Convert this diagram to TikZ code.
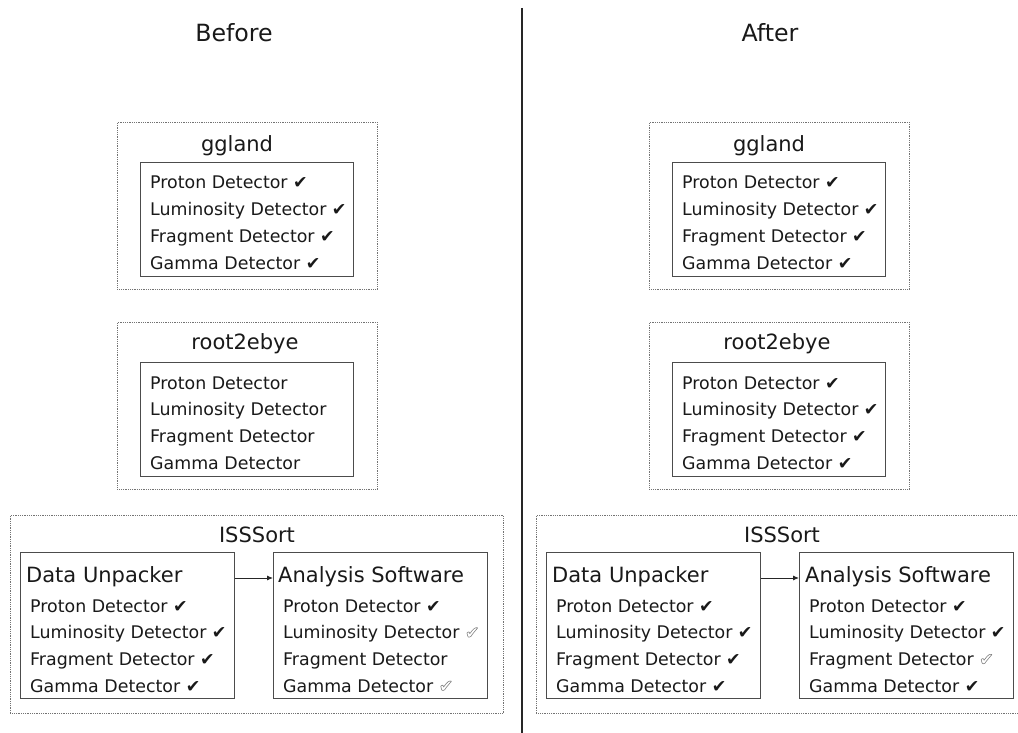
\documentclass[tikz,border=0pt]{standalone}
\usepackage{fontspec}
\setmainfont{DejaVu Sans}
\usetikzlibrary{arrows.meta,calc}
\newcommand{\itemfs}{\fontsize{17.4pt}{20pt}\selectfont}
\newcommand{\ttlfs}{\fontsize{21pt}{24pt}\selectfont}
\newcommand{\headfs}{\fontsize{23.7pt}{27pt}\selectfont}
\newcommand{\ck}{✔}
\newcommand{\ock}{\textcolor{black!50}{\special{pdf:literal direct q 1 Tr 0.6 w}✔\special{pdf:literal direct Q}}}
\begin{document}
\begin{tikzpicture}[x=1pt,y=-1pt,
  outerbox/.style={draw=black!55, densely dotted, line width=0.8pt, inner sep=0pt, anchor=north west},
  innerbox/.style={draw=black!70, line width=0.9pt, inner sep=0pt, anchor=north west},
  itemtxt/.style={anchor=base west, font=\itemfs, inner sep=0pt, text=black!90},
  ttltxt/.style={anchor=base, font=\ttlfs, inner sep=0pt, text=black!90},
  subttl/.style={anchor=base west, font=\ttlfs, inner sep=0pt, text=black!90},
  headtxt/.style={anchor=base, font=\headfs, inner sep=0pt, text=black!90},
  flow/.style={-{Latex[length=6pt,width=5pt]}, line width=0.9pt, black!85}]
\useasboundingbox (0,0) rectangle (1018,733);

% divider
\coordinate (dtop) at (522,8);
\coordinate (dbot) at (522,733);
\draw[line width=2pt, black!85] (dtop) -- (dbot);

% headings
\node[headtxt] (before) at (234,42) {Before};
\node[headtxt] (after) at (770,42) {After};

% ================= BEFORE =================
% ggland
\node[outerbox, minimum width=260pt, minimum height=167pt] (Lgg) at (117,122) {};
\node[innerbox, minimum width=213pt, minimum height=114pt] (Lggi) at (140,162) {};
\node[ttltxt] (Lggt) at (237,152) {ggland};
\node[itemtxt] (Lgg1) at (150,189) {Proton Detector \ck};
\node[itemtxt] (Lgg2) at (150,215.7) {Luminosity Detector \ck};
\node[itemtxt] (Lgg3) at (150,242.3) {Fragment Detector \ck};
\node[itemtxt] (Lgg4) at (150,269) {Gamma Detector \ck};

% root2ebye
\node[outerbox, minimum width=260pt, minimum height=167pt] (Lre) at (117,322) {};
\node[innerbox, minimum width=213pt, minimum height=114pt] (Lrei) at (140,362) {};
\node[ttltxt] (Lret) at (245,349) {root2ebye};
\node[itemtxt] (Lre1) at (150,389) {Proton Detector};
\node[itemtxt] (Lre2) at (150,415.7) {Luminosity Detector};
\node[itemtxt] (Lre3) at (150,442.3) {Fragment Detector};
\node[itemtxt] (Lre4) at (150,469) {Gamma Detector};

% ISSSort
\node[outerbox, minimum width=493pt, minimum height=198pt] (Lis) at (10,515) {};
\node[ttltxt] (List) at (257,542) {ISSSort};
\node[innerbox, minimum width=214pt, minimum height=146pt] (Ldu) at (20,552) {};
\node[subttl] (Ldut) at (26,582) {Data Unpacker};
\node[itemtxt] (Ldu1) at (30,612) {Proton Detector \ck};
\node[itemtxt] (Ldu2) at (30,638.7) {Luminosity Detector \ck};
\node[itemtxt] (Ldu3) at (30,665.3) {Fragment Detector \ck};
\node[itemtxt] (Ldu4) at (30,692) {Gamma Detector \ck};
\node[innerbox, minimum width=214pt, minimum height=146pt] (Las) at (273,552) {};
\node[subttl] (Last) at (278,582) {Analysis Software};
\node[itemtxt] (Las1) at (283,612) {Proton Detector \ck};
\node[itemtxt] (Las2) at (283,638.7) {Luminosity Detector \ock};
\node[itemtxt] (Las3) at (283,665.3) {Fragment Detector};
\node[itemtxt] (Las4) at (283,692) {Gamma Detector \ock};
\coordinate (La) at ($(Ldu.north east)+(0,26)$);
\draw[flow] (La) -- (La -| Las.west);

% ================= AFTER =================
% ggland
\node[outerbox, minimum width=260pt, minimum height=167pt] (Rgg) at (649,122) {};
\node[innerbox, minimum width=213pt, minimum height=114pt] (Rggi) at (672,162) {};
\node[ttltxt] (Rggt) at (769,152) {ggland};
\node[itemtxt] (Rgg1) at (682,189) {Proton Detector \ck};
\node[itemtxt] (Rgg2) at (682,215.7) {Luminosity Detector \ck};
\node[itemtxt] (Rgg3) at (682,242.3) {Fragment Detector \ck};
\node[itemtxt] (Rgg4) at (682,269) {Gamma Detector \ck};

% root2ebye
\node[outerbox, minimum width=260pt, minimum height=167pt] (Rre) at (649,322) {};
\node[innerbox, minimum width=213pt, minimum height=114pt] (Rrei) at (672,362) {};
\node[ttltxt] (Rret) at (777,349) {root2ebye};
\node[itemtxt] (Rre1) at (682,389) {Proton Detector \ck};
\node[itemtxt] (Rre2) at (682,415.7) {Luminosity Detector \ck};
\node[itemtxt] (Rre3) at (682,442.3) {Fragment Detector \ck};
\node[itemtxt] (Rre4) at (682,469) {Gamma Detector \ck};

% ISSSort
\node[outerbox, minimum width=493pt, minimum height=198pt] (Ris) at (536,515) {};
\node[ttltxt] (Rist) at (782,542) {ISSSort};
\node[innerbox, minimum width=214pt, minimum height=146pt] (Rdu) at (546,552) {};
\node[subttl] (Rdut) at (552,582) {Data Unpacker};
\node[itemtxt] (Rdu1) at (556,612) {Proton Detector \ck};
\node[itemtxt] (Rdu2) at (556,638.7) {Luminosity Detector \ck};
\node[itemtxt] (Rdu3) at (556,665.3) {Fragment Detector \ck};
\node[itemtxt] (Rdu4) at (556,692) {Gamma Detector \ck};
\node[innerbox, minimum width=214pt, minimum height=146pt] (Ras) at (799,552) {};
\node[subttl] (Rast) at (805,582) {Analysis Software};
\node[itemtxt] (Ras1) at (809,612) {Proton Detector \ck};
\node[itemtxt] (Ras2) at (809,638.7) {Luminosity Detector \ck};
\node[itemtxt] (Ras3) at (809,665.3) {Fragment Detector \ock};
\node[itemtxt] (Ras4) at (809,692) {Gamma Detector \ck};
\coordinate (Ra) at ($(Rdu.north east)+(0,26)$);
\draw[flow] (Ra) -- (Ra -| Ras.west);
\end{tikzpicture}
\end{document}
